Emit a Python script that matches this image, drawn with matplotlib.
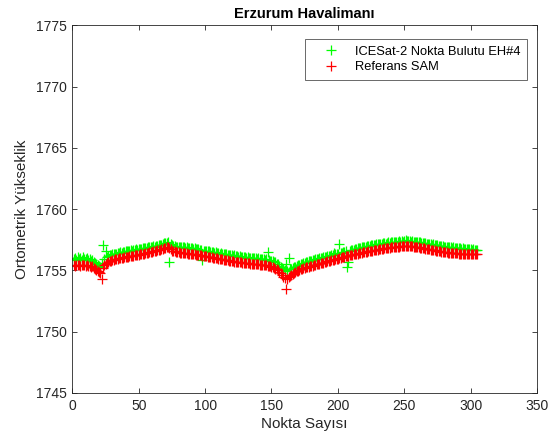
import matplotlib
matplotlib.use("Agg")
import matplotlib.pyplot as plt
import numpy as np

plt.rcParams['font.family'] = ['Liberation Sans', 'DejaVu Sans']

title = "Erzurum Havalimanı"
xlabel = "Nokta Sayısı"
ylabel = "Ortometrik Yükseklik"
legend_labels = ["ICESat-2 Nokta Bulutu EH#4", "Referans SAM"]
xticks = [0, 50, 100, 150, 200, 250, 300, 350]
yticks = [1745, 1750, 1755, 1760, 1765, 1770, 1775]

red_vals = [
    1755.45, 1755.40, 1755.48, 1755.42, 1755.46, 1755.38, 1755.44, 1755.41, 1755.47, 1755.40,
    1755.43, 1755.36, 1755.40, 1755.30, 1755.34, 1755.22, 1755.15, 1755.05, 1754.95, 1754.85,
    1754.75, 1754.30, 1755.20, 1755.45, 1755.55, 1755.62, 1755.70, 1755.74, 1755.80, 1755.83,
    1755.86, 1755.90, 1755.92, 1755.95, 1755.98, 1756.00, 1756.02, 1756.05, 1756.06, 1756.08,
    1756.10, 1756.12, 1756.14, 1756.15, 1756.18, 1756.20, 1756.22, 1756.24, 1756.26, 1756.28,
    1756.30, 1756.33, 1756.35, 1756.38, 1756.40, 1756.42, 1756.45, 1756.47, 1756.50, 1756.52,
    1756.55, 1756.58, 1756.60, 1756.63, 1756.66, 1756.70, 1756.74, 1756.78, 1756.82, 1756.86,
    1756.90, 1756.95, 1756.85, 1756.72, 1756.62, 1756.58, 1756.55, 1756.52, 1756.50, 1756.48,
    1756.46, 1756.45, 1756.44, 1756.42, 1756.40, 1756.40, 1756.38, 1756.36, 1756.35, 1756.34,
    1756.32, 1756.30, 1756.28, 1756.27, 1756.25, 1756.24, 1756.22, 1756.20, 1756.18, 1756.16,
    1756.14, 1756.12, 1756.10, 1756.08, 1756.06, 1756.04, 1756.02, 1756.00, 1755.98, 1755.96,
    1755.94, 1755.92, 1755.90, 1755.88, 1755.86, 1755.84, 1755.82, 1755.80, 1755.78, 1755.76,
    1755.74, 1755.72, 1755.70, 1755.69, 1755.68, 1755.66, 1755.65, 1755.64, 1755.62, 1755.61,
    1755.60, 1755.58, 1755.57, 1755.56, 1755.55, 1755.54, 1755.52, 1755.51, 1755.50, 1755.49,
    1755.48, 1755.47, 1755.46, 1755.45, 1755.44, 1755.42, 1755.40, 1755.38, 1755.35, 1755.32,
    1755.28, 1755.22, 1755.15, 1755.08, 1755.00, 1754.90, 1754.80, 1754.65, 1754.50, 1754.40,
    1753.50, 1754.30, 1754.45, 1754.55, 1754.62, 1754.70, 1754.78, 1754.85, 1754.92, 1754.98,
    1755.03, 1755.08, 1755.12, 1755.16, 1755.20, 1755.24, 1755.28, 1755.31, 1755.34, 1755.37,
    1755.40, 1755.43, 1755.46, 1755.49, 1755.52, 1755.55, 1755.58, 1755.61, 1755.64, 1755.67,
    1755.70, 1755.73, 1755.76, 1755.79, 1755.82, 1755.85, 1755.88, 1755.91, 1755.94, 1755.97,
    1756.00, 1756.03, 1756.06, 1756.09, 1756.12, 1756.15, 1756.18, 1756.20, 1756.23, 1756.26,
    1756.28, 1756.31, 1756.33, 1756.36, 1756.38, 1756.40, 1756.42, 1756.45, 1756.47, 1756.49,
    1756.51, 1756.53, 1756.55, 1756.57, 1756.59, 1756.61, 1756.63, 1756.65, 1756.67, 1756.69,
    1756.71, 1756.73, 1756.75, 1756.77, 1756.79, 1756.81, 1756.83, 1756.85, 1756.86, 1756.88,
    1756.89, 1756.90, 1756.92, 1756.93, 1756.94, 1756.95, 1756.96, 1756.97, 1756.98, 1756.99,
    1757.00, 1757.00, 1756.99, 1756.98, 1756.97, 1756.96, 1756.95, 1756.94, 1756.92, 1756.90,
    1756.88, 1756.86, 1756.84, 1756.82, 1756.80, 1756.78, 1756.76, 1756.74, 1756.72, 1756.70,
    1756.68, 1756.66, 1756.64, 1756.62, 1756.60, 1756.58, 1756.56, 1756.54, 1756.52, 1756.50,
    1756.49, 1756.48, 1756.46, 1756.45, 1756.44, 1756.43, 1756.42, 1756.41, 1756.40, 1756.39,
    1756.38, 1756.37, 1756.36, 1756.36, 1756.35, 1756.35, 1756.34, 1756.34, 1756.33, 1756.33,
    1756.32, 1756.32, 1756.31, 1756.31, 1756.30,
]

green_vals = [
    1755.95, 1756.05, 1755.88, 1756.10, 1755.92, 1756.02, 1755.85, 1756.08, 1755.96, 1755.90,
    1755.98, 1755.85, 1755.92, 1755.80, 1755.86, 1755.70, 1755.62, 1755.55, 1755.45, 1755.40,
    1755.30, 1755.60, 1757.10, 1755.95, 1756.60, 1756.10, 1756.18, 1756.25, 1756.22, 1756.30,
    1756.30, 1756.38, 1756.35, 1756.42, 1756.40, 1756.48, 1756.45, 1756.52, 1756.50, 1756.55,
    1756.55, 1756.62, 1756.58, 1756.65, 1756.60, 1756.68, 1756.66, 1756.72, 1756.70, 1756.75,
    1756.78, 1756.72, 1756.82, 1756.80, 1756.85, 1756.83, 1756.88, 1756.92, 1756.90, 1756.95,
    1756.98, 1756.95, 1757.02, 1757.00, 1757.05, 1757.10, 1757.08, 1757.15, 1757.20, 1757.22,
    1757.25, 1757.30, 1755.65, 1757.15, 1757.05, 1757.00, 1756.98, 1756.95, 1756.92, 1756.95,
    1756.90, 1756.95, 1756.88, 1756.92, 1756.85, 1756.90, 1756.82, 1756.85, 1756.80, 1756.82,
    1756.78, 1756.80, 1756.75, 1756.72, 1756.74, 1756.70, 1756.66, 1755.85, 1756.62, 1756.60,
    1756.58, 1756.60, 1756.55, 1756.52, 1756.50, 1756.48, 1756.45, 1756.47, 1756.42, 1756.40,
    1756.38, 1756.40, 1756.35, 1756.32, 1756.34, 1756.30, 1756.28, 1756.25, 1756.27, 1756.22,
    1756.20, 1756.22, 1756.16, 1756.18, 1756.12, 1756.15, 1756.10, 1756.12, 1756.08, 1756.10,
    1756.05, 1756.08, 1756.02, 1756.05, 1756.00, 1756.02, 1755.98, 1756.00, 1755.95, 1755.98,
    1755.95, 1755.92, 1755.90, 1755.95, 1755.88, 1755.90, 1756.50, 1755.85, 1755.80, 1755.78,
    1755.75, 1755.70, 1755.65, 1755.55, 1755.50, 1755.40, 1755.30, 1755.20, 1755.10, 1755.00,
    1755.50, 1754.95, 1756.00, 1755.10, 1755.15, 1755.20, 1755.28, 1755.32, 1755.38, 1755.42,
    1755.48, 1755.52, 1755.55, 1755.60, 1755.62, 1755.68, 1755.70, 1755.75, 1755.78, 1755.80,
    1755.82, 1755.88, 1755.90, 1755.95, 1755.92, 1756.00, 1756.02, 1756.05, 1756.08, 1756.10,
    1756.12, 1756.15, 1756.18, 1756.20, 1756.22, 1756.25, 1756.40, 1756.30, 1756.32, 1756.35,
    1757.15, 1756.42, 1756.45, 1756.48, 1756.50, 1756.55, 1755.30, 1755.70, 1756.62, 1756.65,
    1756.68, 1756.70, 1756.75, 1756.78, 1756.80, 1756.82, 1756.85, 1756.88, 1756.90, 1756.92,
    1756.95, 1756.98, 1757.00, 1757.02, 1757.05, 1757.08, 1757.05, 1757.10, 1757.12, 1757.15,
    1757.12, 1757.18, 1757.15, 1757.20, 1757.22, 1757.18, 1757.25, 1757.28, 1757.22, 1757.30,
    1757.28, 1757.32, 1757.30, 1757.35, 1757.32, 1757.38, 1757.35, 1757.40, 1757.36, 1757.42,
    1757.45, 1757.40, 1757.38, 1757.42, 1757.35, 1757.38, 1757.32, 1757.35, 1757.30, 1757.32,
    1757.28, 1757.30, 1757.25, 1757.22, 1757.24, 1757.20, 1757.18, 1757.15, 1757.18, 1757.12,
    1757.10, 1757.12, 1757.08, 1757.05, 1757.06, 1757.02, 1757.00, 1756.98, 1757.00, 1756.95,
    1756.92, 1756.95, 1756.90, 1756.88, 1756.92, 1756.85, 1756.88, 1756.84, 1756.86, 1756.82,
    1756.80, 1756.83, 1756.78, 1756.80, 1756.76, 1756.78, 1756.75, 1756.76, 1756.72, 1756.74,
    1756.70, 1756.72, 1756.68, 1756.70, 1756.66,
]

x_green = np.arange(1, len(green_vals) + 1)
x_red = np.arange(1, len(red_vals) + 1)

fig = plt.figure(figsize=(5.57, 4.48), dpi=100)
ax = fig.add_axes([0.13, 0.1228, 0.834, 0.8207])

ax.plot(x_green, green_vals, linestyle='none', marker='+', color=(0, 1, 0),
        markersize=7, markeredgewidth=0.9, label=legend_labels[0])
ax.plot(x_red, red_vals, linestyle='none', marker='+', color=(1, 0, 0),
        markersize=7, markeredgewidth=0.9, label=legend_labels[1])

ax.set_xlim(0, 350)
ax.set_ylim(1745, 1775)
ax.set_xticks(xticks)
ax.set_yticks(yticks)
axc = '#262626'
for s in ax.spines.values():
    s.set_color(axc)
    s.set_linewidth(0.6)
ax.tick_params(direction='in', top=True, right=True, length=3.5, width=0.6,
               colors=axc, labelsize=10, labelcolor=axc, pad=4)
ax.set_xlabel(xlabel, fontsize=11, color=axc, labelpad=3)
ax.set_ylabel(ylabel, fontsize=11, color=axc, labelpad=5)
ax.set_title(title, fontsize=10.5, fontweight='bold', color='black', pad=5)

leg = ax.legend(loc='upper right', bbox_to_anchor=(0.979, 0.962), fontsize=9.3,
                frameon=True, fancybox=False, borderpad=0.5, handlelength=3.1,
                handletextpad=0.3, labelspacing=0.25, borderaxespad=0)
leg.get_frame().set_edgecolor(axc)
leg.get_frame().set_linewidth(0.6)

fig.savefig("out.png", dpi=100)
